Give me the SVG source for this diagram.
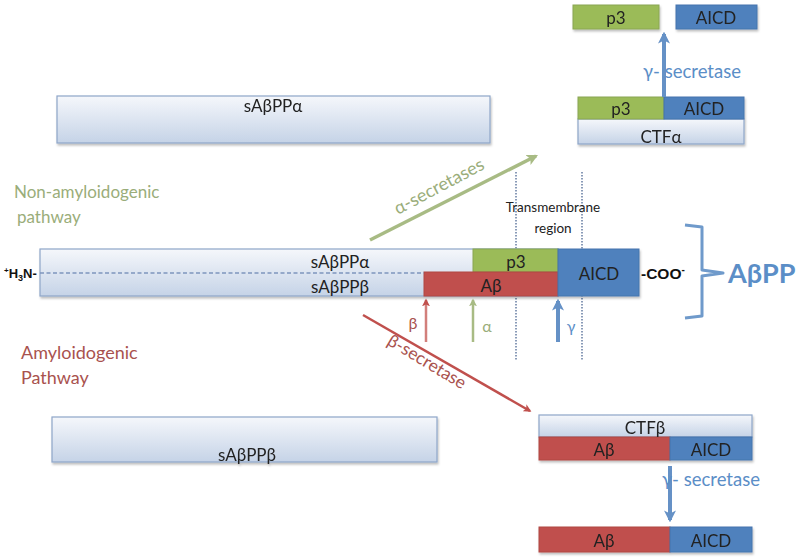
<svg xmlns="http://www.w3.org/2000/svg" width="800" height="557" viewBox="0 0 800 557">
<defs>
<linearGradient id="lg" x1="0" y1="0" x2="0" y2="1">
<stop offset="0" stop-color="#f5f7fb"/>
<stop offset="1" stop-color="#c5d3e7"/>
</linearGradient>
<filter id="sh" x="-5%" y="-20%" width="110%" height="150%">
<feDropShadow dx="1" dy="2" stdDeviation="1.2" flood-color="#000" flood-opacity="0.25"/>
</filter>
<marker id="mr" viewBox="0 0 10 10" refX="8" refY="5" markerWidth="3.2" markerHeight="3.2" orient="auto"><path d="M0,0 L10,5 L0,10 L2.5,5 z" fill="#c0504d"/></marker>
<marker id="mg" viewBox="0 0 10 10" refX="8" refY="5" markerWidth="3.2" markerHeight="3.2" orient="auto"><path d="M0,0 L10,5 L0,10 L2.5,5 z" fill="#a8bb84"/></marker>
<marker id="mb" viewBox="0 0 10 10" refX="8" refY="5" markerWidth="3" markerHeight="3" orient="auto"><path d="M0,0 L10,5 L0,10 L2.5,5 z" fill="#6591c6"/></marker>
</defs>
<style>
text{font-family:Lato,"Open Sans","Liberation Sans",sans-serif}
.light{fill:url(#lg);stroke:#8ea6c9;stroke-width:1.2}
.p3{fill:#9bbb59;stroke:#8aa653;stroke-width:1}
.ab{fill:#c0504d;stroke:#b04743;stroke-width:1}
.aicd{fill:#4f81bd;stroke:#4675ad;stroke-width:1}
.t{font-size:17px;fill:#222;text-anchor:middle;dominant-baseline:central}
.green{fill:#9aad7a}
.red{fill:#a9524e}
.blue{fill:#5b8ec7}
.dot{stroke:#8a9bb8;stroke-width:2;stroke-dasharray:1.5,1.5}
</style>

<g id="sAPPa-top" filter="url(#sh)">
<rect class="light" x="57" y="96" width="433" height="47"/>
<text class="t" x="273" y="105">sAβPPα</text>
</g>

<g id="sAPPb-bottom" filter="url(#sh)">
<rect class="light" x="52" y="417" width="385" height="45"/>
<text class="t" x="247" y="454">sAβPPβ</text>
</g>

<g id="p3-top" filter="url(#sh)">
<rect class="p3" x="573" y="5" width="86" height="24"/>
<text class="t" x="616" y="17">p3</text>
</g>
<g id="aicd-top" filter="url(#sh)">
<rect class="aicd" x="676" y="5" width="81" height="24"/>
<text class="t" x="716" y="17">AICD</text>
</g>

<g id="ctfa" filter="url(#sh)">
<rect class="light" x="578" y="119" width="166" height="25"/>
<rect class="p3" x="578" y="97" width="86" height="22"/>
<rect class="aicd" x="664" y="97" width="80" height="22"/>
<text class="t" x="621" y="108">p3</text>
<text class="t" x="704" y="108">AICD</text>
<text class="t" x="661" y="136">CTFα</text>
</g>

<g id="ctfb" filter="url(#sh)">
<rect class="light" x="539" y="415" width="213" height="22"/>
<rect class="ab" x="539" y="437" width="131" height="23"/>
<rect class="aicd" x="670" y="437" width="82" height="23"/>
<text class="t" x="645" y="427">CTFβ</text>
<text class="t" x="604" y="449">Aβ</text>
<text class="t" x="711" y="449">AICD</text>
</g>

<g id="products-b" filter="url(#sh)">
<rect class="ab" x="539" y="527" width="131" height="25"/>
<rect class="aicd" x="670" y="527" width="82" height="25"/>
<text class="t" x="604" y="540">Aβ</text>
<text class="t" x="711" y="540">AICD</text>
</g>

<g id="dotted-lines">
<line class="dot" x1="516" y1="172" x2="516" y2="360"/>
<line class="dot" x1="582" y1="172" x2="582" y2="360"/>
</g>

<g id="app" filter="url(#sh)">
<rect class="light" x="40" y="249" width="518" height="47"/>
<rect class="p3" x="473" y="249" width="85" height="23"/>
<rect class="ab" x="424" y="272" width="134" height="24"/>
<rect class="aicd" x="558" y="249" width="81" height="47"/>
</g>
<g id="app-labels">
<line x1="40" y1="273" x2="424" y2="273" stroke="#7d95bd" stroke-width="1.6" stroke-dasharray="4,2.5"/>
<text class="t" x="340" y="261">sAβPPα</text>
<text class="t" x="340" y="286">sAβPPβ</text>
<text class="t" x="516" y="261">p3</text>
<text class="t" x="491" y="285">Aβ</text>
<text class="t" x="599" y="273">AICD</text>
<text x="4" y="278" style="font-family:'Liberation Sans',Arial,sans-serif;font-weight:bold;font-size:13px;fill:#111"><tspan font-size="8" dy="-5">+</tspan><tspan dy="5">H</tspan><tspan font-size="9" dy="3">3</tspan><tspan dy="-3">N-</tspan></text>
<text x="641" y="279" style="font-family:'Liberation Sans',Arial,sans-serif;font-weight:bold;font-size:15.5px;fill:#111">-COO<tspan font-size="10" dy="-6">-</tspan></text>
<text x="553" y="212" style="font-size:13.5px;fill:#222;text-anchor:middle">Transmembrane</text>
<text x="553" y="233" style="font-size:13.5px;fill:#222;text-anchor:middle">region</text>
</g>

<g id="bracket">
<path d="M685,225 L702,227 L702,270 L723,273 L702,276 L702,316 L685,318" fill="none" stroke="#6f9acb" stroke-width="3" stroke-linejoin="round"/>
<text x="728" y="283" style="font-size:27px;font-weight:bold;fill:#5b8ec7">AβPP</text>
</g>

<g id="pathway-labels">
<text x="14" y="198" class="green" style="font-size:17px">Non-amyloidogenic</text>
<text x="17" y="223" class="green" style="font-size:17px">pathway</text>
<text x="21" y="359" class="red" style="font-size:18px">Amyloidogenic</text>
<text x="21" y="384" class="red" style="font-size:18px">Pathway</text>
</g>

<g id="connectors" fill="none">
<line x1="370" y1="240" x2="536" y2="156" stroke="#a8bb84" stroke-width="3.5" marker-end="url(#mg)"/>
<line x1="363" y1="315" x2="530" y2="411" stroke="#c0504d" stroke-width="2.5" marker-end="url(#mr)"/>
<line x1="426" y1="342" x2="426" y2="300" stroke="#d27f7b" stroke-width="2.5" marker-end="url(#mr)"/>
<line x1="473" y1="342" x2="473" y2="300" stroke="#a8bb84" stroke-width="2.5" marker-end="url(#mg)"/>
<line x1="558" y1="342" x2="558" y2="301" stroke="#6591c6" stroke-width="4" marker-end="url(#mb)"/>
<line x1="664" y1="97" x2="664" y2="34" stroke="#6591c6" stroke-width="4" marker-end="url(#mb)"/>
<line x1="670" y1="466" x2="670" y2="520" stroke="#6591c6" stroke-width="4" marker-end="url(#mb)"/>
</g>

<g id="connector-labels">
<text transform="translate(398,215) rotate(-28)" class="green" style="font-size:18px">α-secretases</text>
<text transform="translate(386,344) rotate(31)" class="red" style="font-size:17.5px">β-secretase</text>
<text x="413" y="329" class="red" style="font-size:16px;text-anchor:middle">β</text>
<text x="487" y="332" class="green" style="font-size:16px;text-anchor:middle">α</text>
<text x="571" y="332" class="blue" style="font-size:16px;text-anchor:middle">γ</text>
<text x="643" y="78" class="blue" style="font-size:18.5px">γ- secretase</text>
<text x="662" y="486" class="blue" style="font-size:18.5px">γ- secretase</text>
</g>
</svg>
